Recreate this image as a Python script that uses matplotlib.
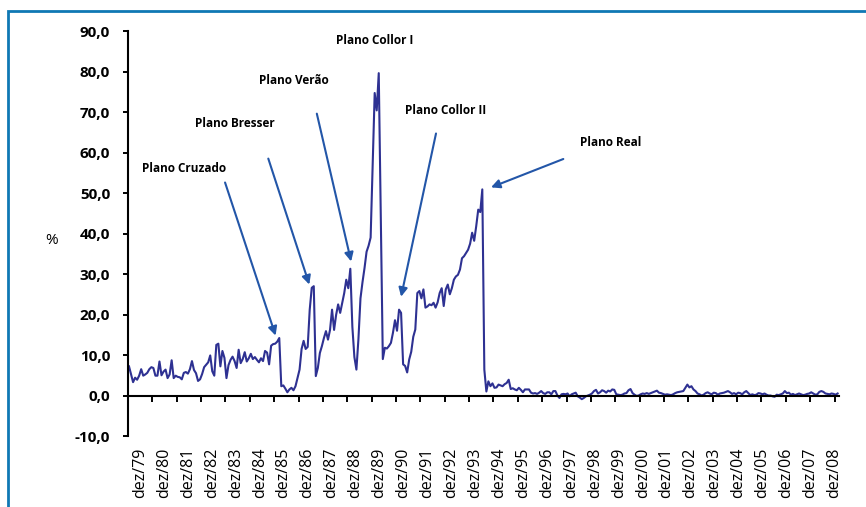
import numpy as np
import matplotlib
matplotlib.use("Agg")
import matplotlib.pyplot as plt
from matplotlib.patches import Rectangle

plt.rcParams['font.family'] = ['Open Sans', 'DejaVu Sans']

# inflação mensal (%), dez/79 .. jan/09
dez79 = [7.2]
y1980 = [5.2, 3.3, 4.4, 3.9, 4.9, 6.5, 4.9, 5.2, 5.6, 6.5, 7.0, 6.8]
y1981 = [4.9, 4.9, 8.4, 5.0, 5.9, 6.4, 4.3, 5.2, 8.7, 4.3, 4.9, 4.6]
y1982 = [4.5, 4.0, 5.6, 5.8, 5.4, 6.5, 8.5, 6.3, 5.5, 3.6, 4.0, 5.3]
y1983 = [7.0, 7.6, 8.2, 9.9, 6.0, 4.9, 12.5, 12.8, 7.2, 11.0, 9.3, 4.3]
y1984 = [7.5, 8.8, 9.6, 8.5, 6.8, 11.3, 8.0, 9.0, 10.7, 8.4, 9.2, 10.3]
y1985 = [9.0, 9.5, 8.8, 8.2, 9.2, 8.5, 11.0, 10.6, 7.7, 12.3, 12.7, 12.8]
y1986 = [13.3, 14.2, 2.3, 2.5, 1.7, 0.8, 1.5, 1.9, 1.3, 2.3, 4.4, 6.4]
y1987 = [11.5, 13.5, 11.5, 12.0, 21.2, 26.6, 27.0, 4.8, 6.8, 10.5, 12.2, 14.2]
y1988 = [15.9, 13.8, 16.2, 21.2, 16.2, 19.9, 22.5, 20.4, 22.8, 25.3, 28.6, 26.5]
y1989 = [31.3, 17.0, 9.5, 6.4, 14.0, 24.0, 28.0, 31.5, 35.5, 37.0, 39.0, 57.0]
y1990 = [74.7, 70.4, 79.6, 44.0, 9.0, 11.8, 11.6, 12.2, 13.0, 15.5, 18.6, 16.0]
y1991 = [21.2, 20.4, 7.7, 7.3, 5.7, 8.9, 10.8, 14.5, 16.3, 25.3, 25.8, 24.0]
y1992 = [26.2, 21.7, 22.0, 22.5, 22.3, 22.9, 21.7, 23.0, 25.3, 26.5, 22.1, 26.2]
y1993 = [27.4, 25.0, 26.5, 28.6, 29.4, 29.8, 31.1, 33.9, 34.4, 35.2, 36.0, 37.5]
y1994 = [40.2, 38.2, 41.8, 45.9, 45.3, 50.9, 6.4, 1.0, 3.5, 2.3, 3.0, 1.9]
y1995 = [2.0, 2.7, 2.5, 2.3, 2.8, 3.1, 3.9, 1.6, 1.8, 1.5, 1.3, 1.9]
y1996 = [1.4, 0.8, 1.5, 1.5, 1.5, 0.7, 0.5, 0.6, 0.4, 0.7, 1.1, 0.6]
y1997 = [0.4, 0.8, 0.8, 0.3, 1.1, 1.1, 0.0, -0.6, 0.3, 0.4, 0.3, 0.5]
y1998 = [-0.2, 0.3, 0.5, 0.7, -0.2, -0.5, -0.9, -0.6, -0.2, 0.0, 0.2, 0.5]
y1999 = [1.1, 1.4, 0.5, 0.8, 1.3, 1.1, 0.7, 1.2, 1.0, 1.5, 1.4, 0.3]
y2000 = [0.2, 0.1, 0.2, 0.5, 0.6, 1.3, 1.6, 0.6, 0.2, -0.1, 0.0, 0.3]
y2001 = [0.5, 0.4, 0.6, 0.4, 0.6, 0.8, 1.0, 1.2, 0.7, 0.6, 0.4, 0.2]
y2002 = [0.3, 0.2, 0.1, 0.3, 0.6, 0.8, 0.9, 1.0, 1.1, 1.9, 2.7, 2.0]
y2003 = [2.3, 1.5, 1.1, 0.5, 0.3, 0.0, 0.2, 0.6, 0.8, 0.5, 0.3, 0.7]
y2004 = [0.6, 0.2, 0.5, 0.6, 0.7, 0.9, 1.1, 0.8, 0.4, 0.6, 0.3, 0.7]
y2005 = [0.6, 0.3, 0.8, 1.1, 0.6, 0.1, 0.3, 0.1, 0.2, 0.6, 0.5, 0.3]
y2006 = [0.5, 0.2, 0.0, 0.0, -0.2, -0.3, 0.2, 0.1, 0.3, 0.5, 1.1, 0.6]
y2007 = [0.7, 0.2, 0.4, 0.1, 0.3, 0.5, 0.3, 0.1, 0.2, 0.4, 0.5, 0.8]
y2008 = [0.5, 0.2, 0.3, 0.9, 1.1, 0.9, 0.5, 0.4, 0.3, 0.5, 0.4, 0.2]
jan09 = [0.5]

years = [y1980, y1981, y1982, y1983, y1984, y1985, y1986, y1987, y1988, y1989,
         y1990, y1991, y1992, y1993, y1994, y1995, y1996, y1997, y1998, y1999,
         y2000, y2001, y2002, y2003, y2004, y2005, y2006, y2007, y2008]
for y in years:
    assert len(y) == 12

values = np.array(dez79 + sum(years, []) + jan09)

tick_labels = [f"dez/{y % 100:02d}" for y in range(1979, 2009)]
y_ticks = np.arange(-10, 91, 10)

# planos econômicos: texto, posição do texto, cauda e ponta da seta
planos = ["Plano Cruzado", "Plano Bresser", "Plano Verão",
          "Plano Collor I", "Plano Collor II", "Plano Real"]
text_pos = [(27.6, 56.0), (52.5, 67.2), (81.5, 77.8),
            (121.7, 87.7), (156.2, 70.4), (237.9, 62.5)]
arrow_tail = [(47.8, 52.6), (69.1, 58.5), (93.0, 69.6),
              None, (151.7, 64.7), (214.4, 58.4)]
arrow_head = [(72.7, 14.8), (89.3, 27.4), (109.9, 33.1),
              None, (134.5, 24.4), (178.8, 51.4)]

line_color = '#2e3192'
arrow_color = '#2356a8'

fig = plt.figure(figsize=(8.66, 5.07), dpi=100)
ax = fig.add_axes([0.1478, 0.140, 0.8206, 0.7988])

x = np.arange(len(values)) + 0.5
ax.plot(x, values, color=line_color, lw=1.5, solid_joinstyle='round')

ax.set_xlim(0, len(values))
ax.set_ylim(-10, 90)

for s in ['top', 'right']:
    ax.spines[s].set_visible(False)
ax.spines['bottom'].set_position(('data', 0))
ax.spines['bottom'].set_linewidth(1.5)
ax.spines['left'].set_linewidth(1.5)

ax.set_xticks(np.arange(0, 349, 12))
ax.set_xticklabels([])
ax.tick_params(axis='x', direction='out', length=4, width=1.4)

ax.set_yticks(y_ticks)
ax.set_yticklabels([f"{v:.1f}".replace('.', ',') for v in y_ticks],
                   fontsize=11, fontweight='bold')
ax.tick_params(axis='y', direction='out', length=3.8, width=1.4, pad=9)

# rótulos do eixo x abaixo do gráfico
sec = ax.secondary_xaxis('bottom')
sec.spines['bottom'].set_visible(False)
sec.set_xticks(np.linspace(5.9, 347.8, len(tick_labels)))
sec.set_xticklabels(tick_labels, rotation=90, fontsize=11.5)
sec.tick_params(length=0, pad=8)

ax.text(-0.108, 0.484, '%', transform=ax.transAxes, ha='center', va='center',
        fontsize=11)

for name, tp, tail, head in zip(planos, text_pos, arrow_tail, arrow_head):
    ax.text(tp[0], tp[1], name, ha='center', va='center', fontsize=8.5,
            fontweight='bold')
    if tail is not None:
        ax.annotate('', xy=head, xytext=tail,
                    arrowprops=dict(arrowstyle='-|>', color=arrow_color,
                                    lw=1.5, mutation_scale=13,
                                    shrinkA=0, shrinkB=0))

# moldura azul
fig.patches.append(Rectangle((8 / 866, -0.5), 2.0, 0.5 + 1 - 11 / 507,
                             transform=fig.transFigure, fill=False,
                             edgecolor='#0f78b4', lw=2.0, clip_on=False))

fig.savefig('out.png', dpi=100)
